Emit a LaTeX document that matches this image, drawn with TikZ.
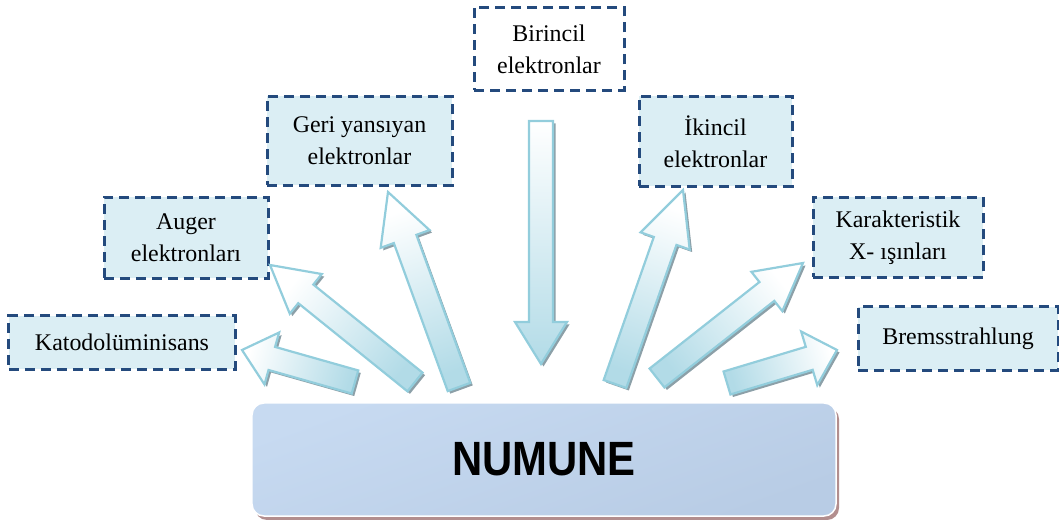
\documentclass[tikz,border=0pt]{standalone}
\usepackage{fontspec}
\usepackage{graphicx}
\setmainfont{Liberation Serif}
\newfontfamily\headfont{Liberation Sans}
\usetikzlibrary{calc,shadows}

\definecolor{boxline}{RGB}{36,74,125}
\definecolor{boxfill}{RGB}{219,238,244}
\definecolor{arrline}{RGB}{146,205,220}
\definecolor{arrtail}{RGB}{178,219,231}
\definecolor{arrshade}{RGB}{140,160,168}
\definecolor{baseA}{RGB}{199,218,241}
\definecolor{baseB}{RGB}{184,204,229}
\definecolor{baseshadow}{RGB}{178,142,142}

\tikzset{
  label box/.style={draw=boxline, line width=3bp, dash pattern=on 10bp off 6bp,
    fill=boxfill, align=center, inner sep=0pt,
    font=\fontsize{24}{32}\selectfont},
  sample box/.style={draw=white, line width=1.5bp, rounded corners=12bp,
    left color=baseA, right color=baseB, shading angle=20,
    minimum width=584bp, minimum height=113bp,
    drop shadow={shadow xshift=3bp, shadow yshift=-4bp, fill=baseshadow, opacity=1}},
  arrow body/.style={draw=arrline, line width=2.2bp, line join=miter},
}

% block arrow: #1 tail, #2 tip, #3 half shaft width, #4 half head width,
% #5 head length, #6 shading angle (white end on the "top" side of the shading)
\newcommand{\blockarrow}[6]{%
  \coordinate (neck) at ($(#2)!#5!(#1)$);
  \coordinate (t1) at ($(#1)!#3!90:(#2)$);
  \coordinate (t2) at ($(#1)!#3!-90:(#2)$);
  \coordinate (n1) at ($(neck)!#3!90:(#2)$);
  \coordinate (n2) at ($(neck)!#3!-90:(#2)$);
  \coordinate (b1) at ($(neck)!#4!90:(#2)$);
  \coordinate (b2) at ($(neck)!#4!-90:(#2)$);
  \fill[arrshade, transform canvas={shift={(2.5bp,-2.5bp)}}]
    (t1) -- (n1) -- (b1) -- (#2) -- (b2) -- (n2) -- (t2) -- cycle;
  \draw[arrow body, top color=white, bottom color=arrtail, shading angle=#6]
    (t1) -- (n1) -- (b1) -- (#2) -- (b2) -- (n2) -- (t2) -- cycle;
}

\begin{document}
\begin{tikzpicture}[x=1bp, y=-1bp]
\useasboundingbox (0,0) rectangle (1059,520);

% emission labels
\node[label box, fill=white, minimum width=150bp, minimum height=83bp] (bir) at (549,49) {Birincil\\elektronlar};
\node[label box, minimum width=185bp, minimum height=89bp] (geri) at (359.5,141) {Geri yansıyan\\elektronlar};
\node[label box, minimum width=153bp, minimum height=90bp] (iki) at (715.5,141.5) {İkincil\\elektronlar};
\node[label box, minimum width=164bp, minimum height=81bp] (aug) at (186,238) {Auger\\elektronları};
\node[label box, minimum width=170bp, minimum height=80bp] (kar) at (898,237.5) {Karakteristik\\X- ışınları};
\node[label box, minimum width=226bp, minimum height=53bp] (kat) at (122,342.5) {Katodolüminisans};
\node[label box, minimum width=200bp, minimum height=63bp] (bre) at (958,338.5) {Bremsstrahlung};

% arrow ends
\coordinate (katT) at (355,382);  \coordinate (katH) at (242,350);
\coordinate (augT) at (415,382);  \coordinate (augH) at (270,265);
\coordinate (gerT) at (459,387);  \coordinate (gerH) at (388,192);
\coordinate (birT) at (541,121);  \coordinate (birH) at (541,364);
\coordinate (ikiT) at (615,384);  \coordinate (ikiH) at (683,190);
\coordinate (karT) at (657,378);  \coordinate (karH) at (803,263);
\coordinate (breT) at (727,383);  \coordinate (breH) at (837,350);

\blockarrow{katT}{katH}{12bp}{27bp}{31bp}{74.7}
\blockarrow{augT}{augH}{12bp}{25.5bp}{46bp}{51.1}
\blockarrow{gerT}{gerH}{12bp}{26bp}{50bp}{20}
\blockarrow{birT}{birH}{12bp}{26bp}{42bp}{0}
\blockarrow{ikiT}{ikiH}{12bp}{26bp}{54bp}{-19.3}
\blockarrow{karT}{karH}{12bp}{25bp}{46bp}{-51.8}
\blockarrow{breT}{breH}{12bp}{28bp}{29bp}{-73.3}

% specimen
\node[sample box] (num) at (544,459.5)
  {\headfont\bfseries\fontsize{42}{42}\selectfont\scalebox{1}[1.15]{NUMUNE}};
\end{tikzpicture}
\end{document}
